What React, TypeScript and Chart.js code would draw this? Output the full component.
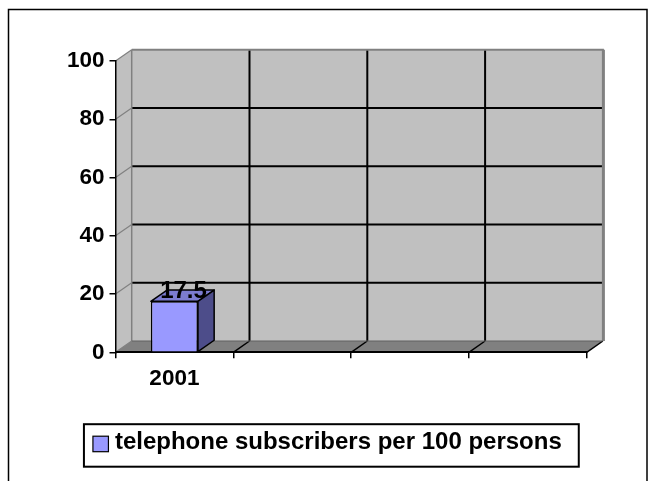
import React, { useEffect, useRef } from 'react';
import { Chart, registerables } from 'chart.js';

Chart.register(...registerables);

// ---- data ----
const categories: string[] = ['2001', '', '', ''];
const subscribers: (number | null)[] = [17.5, null, null, null];
const yTickMin = 0;
const yTickMax = 100;
const yTickStep = 20;
const seriesName = 'telephone subscribers per 100 persons';

const FONT = '"Liberation Sans", Arial, Helvetica, sans-serif';
const DX = 16.2;
const DY = -11.3;

const threeD = {
  id: 'threeD',
  beforeDraw(chart: any) {
    const ctx = chart.ctx as CanvasRenderingContext2D;
    const ys = chart.scales.y;
    const xs = chart.scales.x;
    const a = chart.chartArea;
    const x0 = a.left;
    const x1 = a.right;
    const yT = ys.getPixelForValue(yTickMax);
    const yB = ys.getPixelForValue(yTickMin);
    ctx.save();
    ctx.fillStyle = '#fff';
    ctx.fillRect(0, 0, chart.width, chart.height);
    // outer frame
    ctx.strokeStyle = '#000';
    ctx.lineWidth = 1.5;
    ctx.strokeRect(8.5, 9.5, 638.5, 490);

    const poly = (pts: number[][], fill: string) => {
      ctx.beginPath();
      ctx.moveTo(pts[0][0], pts[0][1]);
      for (let i = 1; i < pts.length; i++) ctx.lineTo(pts[i][0], pts[i][1]);
      ctx.closePath();
      ctx.fillStyle = fill;
      ctx.fill();
    };
    const line = (xa: number, ya: number, xb: number, yb: number, color: string, w: number) => {
      ctx.beginPath();
      ctx.moveTo(xa, ya);
      ctx.lineTo(xb, yb);
      ctx.strokeStyle = color;
      ctx.lineWidth = w;
      ctx.stroke();
    };
    // left wall
    poly([[x0, yT], [x0 + DX, yT + DY], [x0 + DX, yB + DY], [x0, yB]], '#C0C0C0');
    // back wall
    poly([[x0 + DX, yT + DY], [x1 + DX, yT + DY], [x1 + DX, yB + DY], [x0 + DX, yB + DY]], '#C0C0C0');
    // floor
    poly([[x0, yB], [x0 + DX, yB + DY], [x1 + DX, yB + DY], [x1, yB]], '#808080');

    // horizontal gridlines
    const n = categories.length;
    for (let v = yTickMin; v <= yTickMax; v += yTickStep) {
      const y = ys.getPixelForValue(v);
      if (v > yTickMin && v < yTickMax) line(x0 + DX, y + DY, x1 + DX, y + DY, '#000', 2);
      line(x0, y, x0 + DX, y + DY, '#808080', 1.2);
    }
    // vertical gridlines & floor diagonals
    for (let i = 0; i <= n; i++) {
      const bx = xs.getPixelForValue(i - 0.5);
      if (i > 0 && i < n) line(bx + DX, yT + DY, bx + DX, yB + DY, '#000', 2);
      if (i > 0) line(bx, yB, bx + DX, yB + DY, '#000', 1.5);
    }
    // wall edges
    line(x0 + DX, yT + DY, x0 + DX, yB + DY, '#808080', 1.5);
    line(x0 + DX, yT + DY, x1 + DX + 1, yT + DY, '#808080', 2);
    line(x1 + DX + 0.5, yT + DY, x1 + DX + 0.5, yB + DY, '#808080', 3);
    line(x0 + DX, yB + DY, x1 + DX, yB + DY, '#606060', 1.2);
    ctx.restore();
  },
  afterDatasetsDraw(chart: any) {
    const ctx = chart.ctx as CanvasRenderingContext2D;
    const meta = chart.getDatasetMeta(0);
    ctx.save();
    meta.data.forEach((el: any, i: number) => {
      const v = subscribers[i];
      if (v === null || v === undefined) return;
      const { x, y, base, width } = el.getProps(['x', 'y', 'base', 'width'], true);
      const l = x - width / 2;
      const r = x + width / 2;
      ctx.lineWidth = 1.5;
      ctx.strokeStyle = '#000';
      ctx.lineJoin = 'round';
      // top face
      ctx.beginPath();
      ctx.moveTo(l, y);
      ctx.lineTo(l + DX, y + DY);
      ctx.lineTo(r + DX, y + DY);
      ctx.lineTo(r, y);
      ctx.closePath();
      ctx.fillStyle = '#7C7CD0';
      ctx.fill();
      ctx.stroke();
      // side face
      ctx.beginPath();
      ctx.moveTo(r, y);
      ctx.lineTo(r + DX, y + DY);
      ctx.lineTo(r + DX, base + DY);
      ctx.lineTo(r, base);
      ctx.closePath();
      ctx.fillStyle = '#4D4D8A';
      ctx.fill();
      ctx.stroke();
      // value label
      ctx.fillStyle = '#000';
      ctx.font = `bold 24px ${FONT}`;
      ctx.textAlign = 'center';
      ctx.textBaseline = 'middle';
      ctx.fillText(String(v), x + DX / 2 + 1, y + DY + 1);
    });
    ctx.restore();
  },
  afterDraw(chart: any) {
    const ctx = chart.ctx as CanvasRenderingContext2D;
    const lg = chart.legend;
    if (!lg || !lg.legendHitBoxes || !lg.legendHitBoxes.length) return;
    const h = lg.legendHitBoxes[0];
    const cy = h.top + h.height / 2;
    ctx.save();
    // legend frame
    ctx.strokeStyle = '#000';
    ctx.lineWidth = 2;
    ctx.strokeRect(h.left - 9, cy - 18.5, h.width + 26, 42.5);
    // swatch
    ctx.fillStyle = chart.data.datasets[0].backgroundColor;
    ctx.fillRect(h.left, cy - 6.5, 15.5, 15.5);
    ctx.lineWidth = 1.2;
    ctx.strokeRect(h.left, cy - 6.5, 15.5, 15.5);
    ctx.restore();
  },
};

export default function App() {
  const ref = useRef<HTMLCanvasElement>(null);
  useEffect(() => {
    if (!ref.current) return;
    const chart = new Chart(ref.current, {
      type: 'bar',
      data: {
        labels: categories,
        datasets: [
          {
            label: seriesName,
            data: subscribers,
            backgroundColor: '#9999FF',
            borderColor: '#000',
            borderWidth: 1.5,
            barPercentage: 0.4,
            categoryPercentage: 1,
          },
        ],
      },
      options: {
        responsive: false,
        animation: false,
        layout: { padding: { left: 68, right: 66.3, top: 61, bottom: 16.3 } },
        plugins: {
          tooltip: { enabled: false },
          legend: {
            display: true,
            position: 'bottom',
            labels: {
              font: { family: FONT, size: 24, weight: 'bold' },
              color: '#000',
              boxWidth: 10,
              boxHeight: 10,
              padding: 10,
              generateLabels: (c: any) =>
                Chart.defaults.plugins.legend.labels
                  .generateLabels(c)
                  .map((it: any) => ({ ...it, fillStyle: 'rgba(0,0,0,0)', strokeStyle: 'rgba(0,0,0,0)', lineWidth: 0 })),
            },
          },
        },
        scales: {
          x: {
            type: 'category',
            offset: true,
            grid: { display: true, drawOnChartArea: false, drawTicks: true, tickLength: 6, color: '#000', lineWidth: 1.5, offset: true },
            border: { display: true, color: '#000', width: 2 },
            ticks: {
              autoSkip: false,
              maxRotation: 0,
              padding: 7,
              color: '#000',
              font: { family: FONT, size: 22.5, weight: 'bold' },
            },
            afterFit: (s: any) => {
              s.height = 68.4;
            },
          },
          y: {
            type: 'linear',
            min: yTickMin,
            max: yTickMax,
            ticks: {
              stepSize: yTickStep,
              padding: 5,
              color: '#000',
              font: { family: FONT, size: 22.5, weight: 'bold' },
            },
            grid: { display: true, drawOnChartArea: false, drawTicks: true, tickLength: 6, color: '#000', lineWidth: 1.5 },
            border: { display: true, color: '#000', width: 1.5 },
            afterFit: (s: any) => {
              s.width = 47.5;
            },
          },
        },
      },
      plugins: [threeD],
    } as any);
    return () => chart.destroy();
  }, []);
  return (
    <div style={{ position: 'absolute', left: 0, top: 0, width: 653, height: 481 }}>
      <canvas ref={ref} width={653} height={481} style={{ display: 'block' }} />
    </div>
  );
}
